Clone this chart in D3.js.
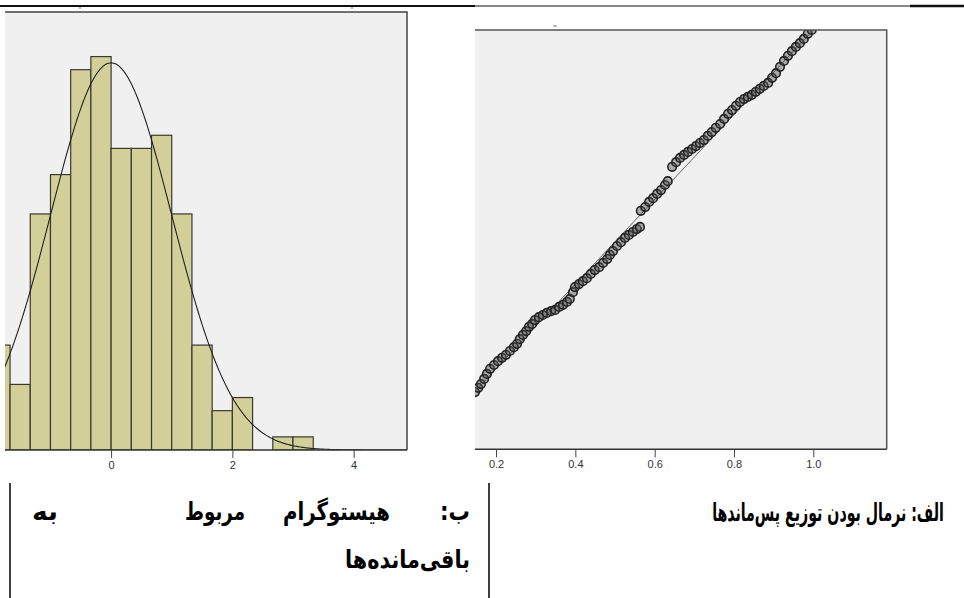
<!DOCTYPE html>
<html>
<head>
<meta charset="utf-8">
<script src="https://cdn.jsdelivr.net/npm/d3@7"></script>
<style>
  body { margin: 0; background: #fff; }
  svg { display: block; }
  .tick text { font-family: "Liberation Sans", Arial, sans-serif; font-size: 11px; fill: #333; }
  .tick line { stroke: #444; }
</style>
</head>
<body>
<svg width="964" height="598"></svg>
<script>
// histogram of residuals (bin lower edges, width 1/3)
const binLow = [-2, -5/3, -4/3, -1, -2/3, -1/3, 0, 1/3, 2/3, 1, 4/3, 5/3, 2, 7/3, 8/3, 3];
const binCount = [8, 5, 18, 21, 29, 30, 23, 23, 24, 18, 8, 3, 4, 0, 1, 1];
const binWidth = 1 / 3;
const histTicks = [0, 2, 4];
// fitted normal curve
const normMean = 0, normSd = 1, normN = 222;

// P-P plot points
const ppX = [0.147, 0.155, 0.162, 0.170, 0.177, 0.185, 0.195, 0.205, 0.215, 0.225, 0.235, 0.245, 0.253, 0.260, 0.268, 0.276, 0.283, 0.291, 0.298, 0.308,
  0.318, 0.328, 0.339, 0.349, 0.359, 0.369, 0.379, 0.386, 0.394, 0.399, 0.409, 0.419, 0.429, 0.439, 0.449, 0.460, 0.470, 0.480, 0.487, 0.495,
  0.505, 0.515, 0.525, 0.535, 0.545, 0.555, 0.563, 0.565, 0.576, 0.586, 0.596, 0.606, 0.616, 0.626, 0.633, 0.644, 0.654, 0.664, 0.674, 0.684,
  0.694, 0.704, 0.714, 0.724, 0.734, 0.744, 0.754, 0.765, 0.775, 0.785, 0.795, 0.805, 0.815, 0.825, 0.835, 0.845, 0.855, 0.865, 0.875, 0.886,
  0.896, 0.906, 0.916, 0.926, 0.936, 0.946, 0.956, 0.966, 0.976, 0.986, 0.996];
const ppY = [0.145, 0.155, 0.164, 0.176, 0.188, 0.200, 0.209, 0.218, 0.226, 0.233, 0.242, 0.251, 0.259, 0.270, 0.280, 0.289, 0.299, 0.306, 0.315, 0.322,
  0.327, 0.332, 0.336, 0.339, 0.346, 0.351, 0.358, 0.365, 0.381, 0.393, 0.400, 0.407, 0.414, 0.424, 0.433, 0.440, 0.450, 0.459, 0.469, 0.478,
  0.490, 0.499, 0.509, 0.516, 0.523, 0.530, 0.535, 0.573, 0.582, 0.594, 0.603, 0.613, 0.622, 0.634, 0.643, 0.677, 0.688, 0.698, 0.705, 0.712,
  0.719, 0.726, 0.733, 0.740, 0.750, 0.759, 0.769, 0.778, 0.790, 0.802, 0.811, 0.821, 0.830, 0.837, 0.842, 0.847, 0.854, 0.861, 0.868, 0.875,
  0.887, 0.898, 0.913, 0.927, 0.939, 0.950, 0.960, 0.969, 0.979, 0.991, 1.000];
const ppTicks = [0.2, 0.4, 0.6, 0.8, 1.0];

const captionA = "الف: نرمال بودن توزیع پس\u200cماندها";
const captionB1 = ["ب:", "هیستوگرام", "مربوط", "به"];
const captionB2 = "باقی\u200cمانده\u200cها";

const svg = d3.select("svg");
const plotBg = "#f0f0f0";

// top rule
svg.append("line").attr("x1", 0).attr("x2", 475).attr("y1", 6).attr("y2", 6).attr("stroke", "#111").attr("stroke-width", 2);
svg.append("line").attr("x1", 475).attr("x2", 910).attr("y1", 6).attr("y2", 6).attr("stroke", "#111").attr("stroke-width", 1);
svg.append("line").attr("x1", 910).attr("x2", 964).attr("y1", 6).attr("y2", 6).attr("stroke", "#111").attr("stroke-width", 2.5);
[80, 352].forEach(x => svg.append("line").attr("x1", x).attr("x2", x).attr("y1", 7).attr("y2", 9).attr("stroke", "#666"));

// ---------- histogram ----------
const hx = d3.scaleLinear().domain([-1.75, 4.88]).range([5, 407]);
const hy = d3.scaleLinear().domain([0, 33.4]).range([450, 12]);

svg.append("clipPath").attr("id", "hclip")
  .append("rect").attr("x", 5).attr("y", 12).attr("width", 402).attr("height", 438);

svg.append("rect").attr("x", 5).attr("y", 12).attr("width", 402).attr("height", 438).attr("fill", plotBg);

const hg = svg.append("g").attr("clip-path", "url(#hclip)");
hg.selectAll("rect.bar")
  .data(binLow.map((b, i) => ({ x0: b, n: binCount[i] })).filter(d => d.n > 0))
  .enter().append("rect")
  .attr("class", "bar")
  .attr("x", d => hx(d.x0))
  .attr("y", d => hy(d.n))
  .attr("width", d => hx(d.x0 + binWidth) - hx(d.x0))
  .attr("height", d => hy(0) - hy(d.n))
  .attr("fill", "#d3cf98")
  .attr("stroke", "#3a3a32")
  .attr("stroke-width", 1.2);

const pdf = x => normN * binWidth / (normSd * Math.sqrt(2 * Math.PI)) * Math.exp(-0.5 * ((x - normMean) / normSd) ** 2);
const curve = d3.line().x(d => hx(d)).y(d => hy(pdf(d)));
hg.append("path")
  .datum(d3.range(-2, 4.9, 0.02))
  .attr("fill", "none")
  .attr("stroke", "#222")
  .attr("stroke-width", 1.1)
  .attr("d", curve);

// frame
svg.append("path").attr("d", "M5,12H407V450").attr("fill", "none").attr("stroke", "#444").attr("stroke-width", 1.5);
svg.append("line").attr("x1", 5).attr("x2", 407).attr("y1", 450).attr("y2", 450).attr("stroke", "#333").attr("stroke-width", 1.5);

svg.append("g")
  .attr("transform", "translate(0,450)")
  .call(d3.axisBottom(hx).tickValues(histTicks).tickFormat(d3.format("d")).tickSize(8).tickSizeOuter(0))
  .call(g => g.select(".domain").remove());

// ---------- P-P plot ----------
const px = d3.scaleLinear().domain([0.147, 1.185]).range([475, 886.7]);
const py = d3.scaleLinear().domain([0, 1]).range([453.5, 30]);

svg.append("clipPath").attr("id", "pclip")
  .append("rect").attr("x", 475).attr("y", 30).attr("width", 411.7).attr("height", 419.3);

svg.append("rect").attr("x", 475).attr("y", 30).attr("width", 411.7).attr("height", 419.3).attr("fill", plotBg);

const pg = svg.append("g").attr("clip-path", "url(#pclip)");
pg.append("line")
  .attr("x1", px(0)).attr("y1", py(0))
  .attr("x2", px(1)).attr("y2", py(1))
  .attr("stroke", "#666")
  .attr("stroke-width", 1);

pg.selectAll("circle")
  .data(ppX.map((x, i) => ({ x: x, y: ppY[i] })))
  .enter().append("circle")
  .attr("cx", d => px(d.x))
  .attr("cy", d => py(d.y))
  .attr("r", 4.3)
  .attr("fill", "#555")
  .attr("fill-opacity", 0.45)
  .attr("stroke", "#222")
  .attr("stroke-width", 1.6);

svg.append("path").attr("d", "M475,30H886.7V449.3").attr("fill", "none").attr("stroke", "#555").attr("stroke-width", 1.5);
svg.append("line").attr("x1", 475).attr("x2", 886.7).attr("y1", 449.3).attr("y2", 449.3).attr("stroke", "#333").attr("stroke-width", 1.5);
svg.append("line").attr("x1", 553).attr("x2", 557).attr("y1", 26).attr("y2", 26).attr("stroke", "#777");

svg.append("g")
  .attr("transform", "translate(0,449.3)")
  .call(d3.axisBottom(px).tickValues(ppTicks).tickFormat(d3.format(".1f")).tickSize(8).tickSizeOuter(0))
  .call(g => g.select(".domain").remove());

// ---------- captions ----------
svg.append("line").attr("x1", 10).attr("x2", 10).attr("y1", 483).attr("y2", 598).attr("stroke", "#000").attr("stroke-width", 1.5);
svg.append("line").attr("x1", 489).attr("x2", 489).attr("y1", 483).attr("y2", 598).attr("stroke", "#000").attr("stroke-width", 1.5);

function fitText(str, left, right, baseline) {
  const t = svg.append("text")
    .attr("direction", "rtl")
    .attr("text-anchor", "middle")
    .style("font-family", "'DejaVu Sans', sans-serif")
    .style("font-weight", "bold")
    .style("font-size", "25px")
    .attr("fill", "#000")
    .text(str);
  const w = t.node().getComputedTextLength();
  const s = (right - left) / w;
  t.attr("transform", `translate(${(left + right) / 2},${baseline}) scale(${s},1)`);
  return t;
}

fitText(captionA, 712, 944, 521);
const b1Pos = [[440, 470], [283, 390], [185, 245], [32, 58]];
captionB1.forEach((w, i) => fitText(w, b1Pos[i][0], b1Pos[i][1], 520));
fitText(captionB2, 345, 470, 568);
</script>
</body>
</html>
